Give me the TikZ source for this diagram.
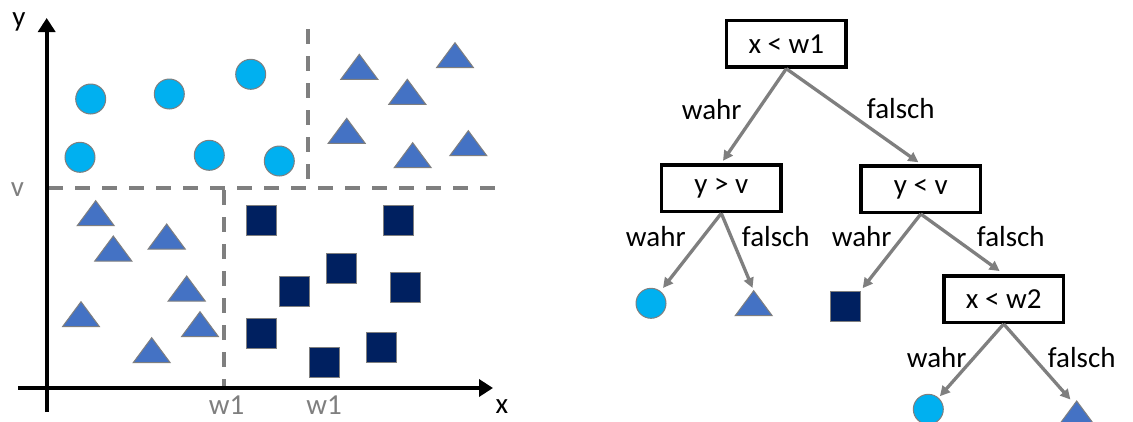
\documentclass[tikz,border=0pt]{standalone}
\usepackage{fontspec}
\setmainfont{Carlito}
\usepackage{xcolor}
\usepackage{tikz}
\usetikzlibrary{arrows.meta}

\definecolor{hellblau}{HTML}{00B0F0}
\definecolor{mittelblau}{HTML}{4472C4}
\definecolor{dunkelblau}{HTML}{002060}
\definecolor{grau}{HTML}{7F7F7F}

\begin{document}
\begin{tikzpicture}[x=1pt, y=-1pt,
  txt/.style={font=\fontsize{29}{34}\selectfont, inner sep=0pt},
  gtxt/.style={txt, text=grau},
  test/.style={txt, draw=black, line width=3.5pt, minimum width=119.5pt, minimum height=46.5pt},
  ptc/.style={fill=hellblau, draw=grau, line width=1pt},
  ptt/.style={fill=mittelblau, draw=grau, line width=1pt, line join=miter},
  pts/.style={fill=dunkelblau, draw=grau, line width=1pt},
  leafc/.style={ptc, circle, minimum size=30pt, inner sep=0pt},
  leafs/.style={pts, rectangle, minimum size=30pt, inner sep=0pt},
  trenn/.style={draw=grau, line width=3.2pt, dash pattern=on 15pt off 12pt},
  achse/.style={line width=4pt, -{Triangle[length=14pt,width=17pt]}},
  arr/.style={draw=grau, line width=3.3pt, -{Triangle[length=10pt,width=10pt]}}]
\useasboundingbox (0,0) rectangle (1133,421);
\clip (0,0) rectangle (1133,421);

% Streudiagramm
\draw[trenn] (48,188) -- (495,188);
\draw[trenn] (308,29) -- (308,182);
\draw[trenn] (224,190) -- (224,386);
\draw[achse] (46.7,412) -- (46.7,18);
\draw[achse] (18,388) -- (493,388);
\node[txt] at (19,22) {y};
\node[txt] at (502,407) {x};
\node[gtxt] at (17.5,190) {v};
\node[gtxt] at (226.7,405.5) {w1};
\node[gtxt] at (324,405.5) {w1};

\foreach \x/\y in {90.7/99, 169.3/94, 250.7/74.3, 80/157.3, 209.3/155.3, 279.3/161}
  \draw[ptc] (\x,\y) circle (15pt);
\foreach \x/\y in {359.3/54.3, 455/42.7, 407.3/79.3, 346.7/118.3, 412.7/142.7, 468.3/130.7,
                   95.7/200.7, 113.3/236, 166.7/224, 186.7/276, 81/301.7, 200/311.7, 151.7/337.7}
  \draw[ptt] (\x,\y) -- ++(18.5,25) -- ++(-37,0) -- cycle;
\foreach \x/\y in {261.7/220.3, 398.3/220.3, 341.7/268, 294.3/291.3, 405/287.5,
                   261.7/333, 324.2/362.2, 381.7/347}
  \draw[pts] (\x-15,\y-15) rectangle ++(30,30);

% Entscheidungsbaum
\node[test] (r) at (786.3,43.7) {x < w1};
\node[test] (a) at (721.3,188.3) {y > v};
\node[test] (b) at (920.8,189) {y < v};
\node[test] (d) at (1003.7,299) {x < w2};
\node[leafc] (c1) at (651,303.3) {};
\coordinate (t1) at (753.7,290.7);
\draw[ptt] (t1) -- ++(18.5,25) -- ++(-37,0) -- cycle;
\node[leafs] (s1) at (845.3,306) {};
\node[leafc] (c2) at (928.3,409.3) {};
\coordinate (t2) at (1076.7,401);
\draw[ptt] (t2) -- ++(18.5,25) -- ++(-37,0) -- cycle;

\draw[arr, shorten >=3pt] (r.south) -- (a.north);
\draw[arr, shorten >=3pt] (r.south) -- (b.north);
\draw[arr, shorten >=4pt] (a.south) -- (c1);
\draw[arr, shorten >=3pt] (a.south) -- (t1);
\draw[arr, shorten >=3pt] (b.south) -- (s1.north east);
\draw[arr, shorten >=5pt] (b.south) -- (d.north);
\draw[arr, shorten >=2pt] (d.south) -- (c2);
\draw[arr, shorten >=2pt] (d.south) -- ([xshift=-5pt]t2);

\node[txt] (l1) at (711.7,109.2) {wahr};
\node[txt] (l2) at (900.8,108.3) {falsch};
\node[txt] (l3) at (655.8,236.5) {wahr};
\node[txt] (l4) at (775.8,236.5) {falsch};
\node[txt] (l5) at (861.7,236.5) {wahr};
\node[txt] (l6) at (1010.8,236.5) {falsch};
\node[txt] (l7) at (936.7,357.5) {wahr};
\node[txt] (l8) at (1081.7,357.5) {falsch};
\end{tikzpicture}
\end{document}
